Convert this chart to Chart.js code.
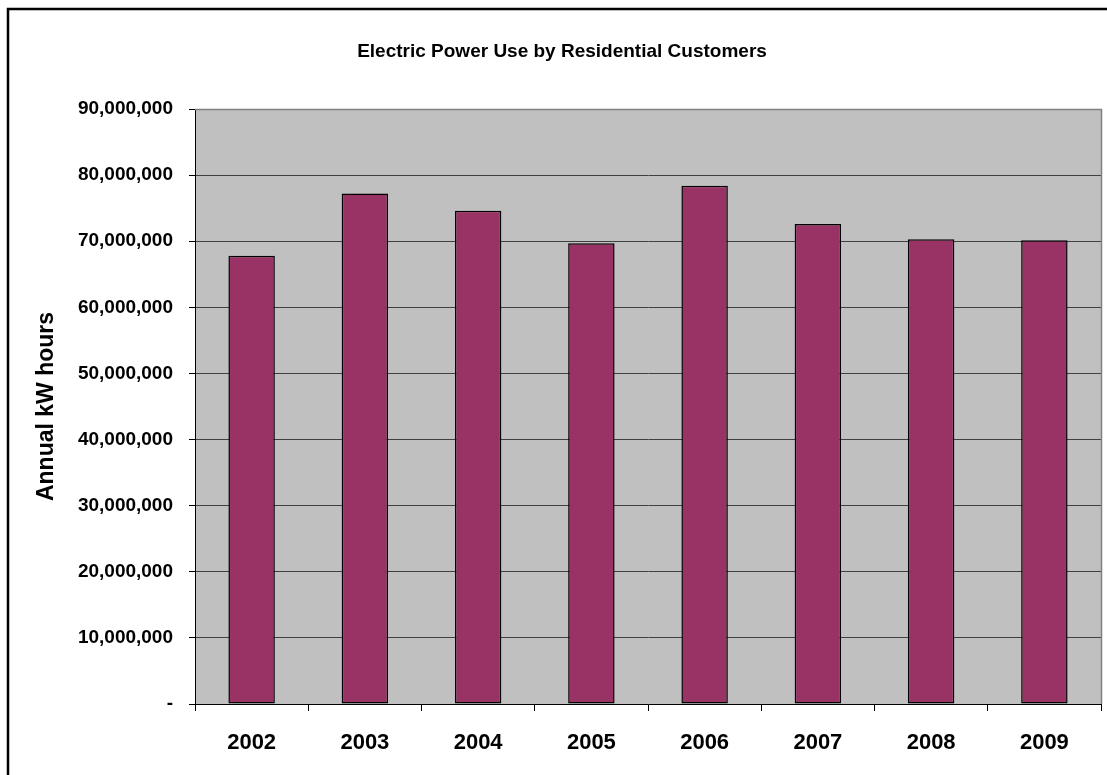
<!DOCTYPE html>
<html>
<head>
<meta charset="utf-8">
<script src="https://cdn.jsdelivr.net/npm/chart.js@4.4.0/dist/chart.umd.min.js"></script>
<style>
html,body{margin:0;padding:0;background:#fff;}
canvas{display:block;}
</style>
</head>
<body>
<canvas id="c" width="1107" height="775"></canvas>
<script>
const years = ['2002','2003','2004','2005','2006','2007','2008','2009'];
const kwhValues = [67800000, 77200000, 74600000, 69700000, 78400000, 72600000, 70300000, 70150000];
const chartTitle = 'Electric Power Use by Residential Customers';
const yAxisTitle = 'Annual kW hours';
const yMin = 0, yMax = 90000000, yStep = 10000000;

const FONT = '"Liberation Sans", Arial, sans-serif';

const decor = {
  id: 'decor',
  beforeDraw(chart) {
    const {ctx, chartArea: a} = chart;
    ctx.save();
    ctx.fillStyle = '#C0C0C0';
    ctx.fillRect(a.left, a.top, a.right - a.left, a.bottom - a.top);
    ctx.restore();
  },
  afterDraw(chart) {
    const {ctx, chartArea: a} = chart;
    ctx.save();
    // plot area border (top/right)
    ctx.strokeStyle = '#808080';
    ctx.lineWidth = 1.5;
    ctx.beginPath();
    ctx.moveTo(a.left, a.top + 0.5);
    ctx.lineTo(a.right + 0.5, a.top + 0.5);
    ctx.lineTo(a.right + 0.5, a.bottom);
    ctx.stroke();
    // outer chart border
    ctx.strokeStyle = '#000';
    ctx.lineWidth = 2.5;
    ctx.beginPath();
    ctx.moveTo(8, 777);
    ctx.lineTo(8, 9);
    ctx.lineTo(1110, 9);
    ctx.stroke();
    // title
    ctx.fillStyle = '#000';
    ctx.textAlign = 'center';
    ctx.textBaseline = 'alphabetic';
    ctx.font = 'bold 19px ' + FONT;
    ctx.fillText(chartTitle, 562, 57);
    // y axis title
    ctx.translate(53, 406.5);
    ctx.rotate(-Math.PI / 2);
    ctx.font = 'bold 23px ' + FONT;
    ctx.fillText(yAxisTitle, 0, 0);
    ctx.restore();
  }
};

new Chart(document.getElementById('c'), {
  type: 'bar',
  data: {
    labels: years,
    datasets: [{
      data: kwhValues,
      backgroundColor: '#993366',
      borderColor: '#000',
      borderWidth: 1.5,
      borderSkipped: false,
      barPercentage: 0.41,
      categoryPercentage: 1.0
    }]
  },
  options: {
    responsive: false,
    devicePixelRatio: 1,
    animation: false,
    layout: { padding: { top: 109, right: 6, left: 0, bottom: 0 } },
    plugins: { legend: { display: false }, title: { display: false }, tooltip: { enabled: false } },
    scales: {
      x: {
        offset: true,
        grid: { display: true, drawOnChartArea: false, drawTicks: true, tickLength: 7, color: '#000', offset: true },
        border: { display: true, color: '#000', width: 1 },
        ticks: { color: '#000', font: { family: FONT, size: 22, weight: 'bold' }, padding: 19, maxRotation: 0 },
        afterFit(scale) { scale.height = 71; }
      },
      y: {
        min: yMin, max: yMax,
        grid: { color: '#404040', lineWidth: 1, drawTicks: true, tickLength: 6, tickColor: '#000' },
        border: { display: true, color: '#000', width: 1 },
        ticks: {
          stepSize: yStep,
          color: '#000',
          padding: 16,
          font: { family: FONT, size: 19, weight: 'bold' },
          callback: v => v === 0 ? '-' : v.toLocaleString('en-US')
        },
        afterFit(scale) { scale.width = 195; }
      }
    }
  },
  plugins: [decor]
});
</script>
</body>
</html>
